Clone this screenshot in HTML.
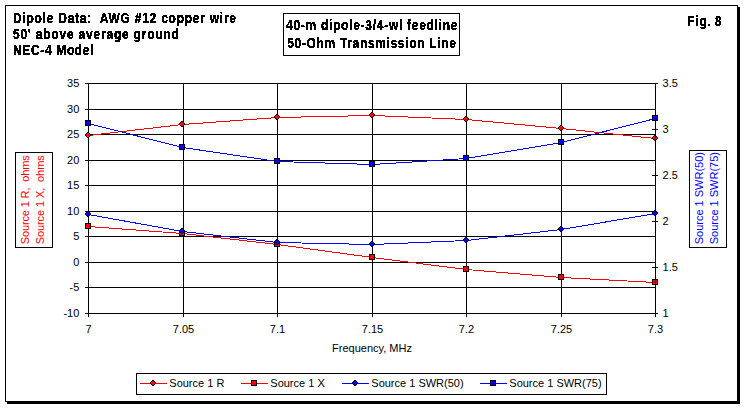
<!DOCTYPE html><html><head><meta charset="utf-8"><style>html,body{margin:0;padding:0;background:#fff;width:745px;height:408px;overflow:hidden}svg{display:block}text{font-family:"Liberation Sans",sans-serif}</style></head><body>
<svg width="745" height="408" viewBox="0 0 745 408">
<defs><filter id="tb" x="0" y="0" width="745" height="408" filterUnits="userSpaceOnUse" color-interpolation-filters="sRGB"><feComponentTransfer><feFuncA type="discrete" tableValues="0 1 1 1"/></feComponentTransfer></filter></defs>
<rect width="745" height="408" fill="#fff"/>
<rect x="5.5" y="5.5" width="732" height="396" fill="#fff" stroke="#000" stroke-width="1" shape-rendering="crispEdges"/>
<rect x="738" y="7" width="2" height="397" fill="#000"/>
<rect x="7" y="402" width="733" height="2" fill="#000"/>
<path d="M85 83.5H655 M85 109.5H655 M85 134.5H655 M85 160.5H655 M85 185.5H655 M85 211.5H655 M85 236.5H655 M85 262.5H655 M85 287.5H655 M85 313.5H655 M183.5 83V317 M277.5 83V317 M372.5 83V317 M466.5 83V317 M561.5 83V317 M655.5 313V317 M88.5 83V317 M85 313.5H655" stroke="#000" stroke-width="1" fill="none" shape-rendering="crispEdges"/>
<polyline points="88.5,135.5 182.5,124.5 277.5,117.5 372.5,115.5 466.5,119.5 561.5,128.5 655.5,138.5" fill="none" stroke="#ff0000" stroke-width="1" shape-rendering="crispEdges"/>
<polyline points="88.5,226.5 182.5,233.5 277.5,244.5 372.5,257.5 466.5,269.5 561.5,277.5 655.5,282.5" fill="none" stroke="#ff0000" stroke-width="1" shape-rendering="crispEdges"/>
<path d="M87 132h2v1h1v1h1v2h-1v1h-1v1h-2v-1h-1v-1h-1v-2h1v-1h1z" fill="#000" shape-rendering="crispEdges"/><path d="M87 133h2v1h1v2h-1v1h-2v-1h-1v-2h1z" fill="#ff0000" shape-rendering="crispEdges"/>
<path d="M181 121h2v1h1v1h1v2h-1v1h-1v1h-2v-1h-1v-1h-1v-2h1v-1h1z" fill="#000" shape-rendering="crispEdges"/><path d="M181 122h2v1h1v2h-1v1h-2v-1h-1v-2h1z" fill="#ff0000" shape-rendering="crispEdges"/>
<path d="M276 114h2v1h1v1h1v2h-1v1h-1v1h-2v-1h-1v-1h-1v-2h1v-1h1z" fill="#000" shape-rendering="crispEdges"/><path d="M276 115h2v1h1v2h-1v1h-2v-1h-1v-2h1z" fill="#ff0000" shape-rendering="crispEdges"/>
<path d="M371 112h2v1h1v1h1v2h-1v1h-1v1h-2v-1h-1v-1h-1v-2h1v-1h1z" fill="#000" shape-rendering="crispEdges"/><path d="M371 113h2v1h1v2h-1v1h-2v-1h-1v-2h1z" fill="#ff0000" shape-rendering="crispEdges"/>
<path d="M465 116h2v1h1v1h1v2h-1v1h-1v1h-2v-1h-1v-1h-1v-2h1v-1h1z" fill="#000" shape-rendering="crispEdges"/><path d="M465 117h2v1h1v2h-1v1h-2v-1h-1v-2h1z" fill="#ff0000" shape-rendering="crispEdges"/>
<path d="M560 125h2v1h1v1h1v2h-1v1h-1v1h-2v-1h-1v-1h-1v-2h1v-1h1z" fill="#000" shape-rendering="crispEdges"/><path d="M560 126h2v1h1v2h-1v1h-2v-1h-1v-2h1z" fill="#ff0000" shape-rendering="crispEdges"/>
<path d="M654 135h2v1h1v1h1v2h-1v1h-1v1h-2v-1h-1v-1h-1v-2h1v-1h1z" fill="#000" shape-rendering="crispEdges"/><path d="M654 136h2v1h1v2h-1v1h-2v-1h-1v-2h1z" fill="#ff0000" shape-rendering="crispEdges"/>
<rect x="85" y="223" width="6" height="6" fill="#000" shape-rendering="crispEdges"/><rect x="86" y="224" width="4" height="4" fill="#ff0000" shape-rendering="crispEdges"/>
<rect x="179" y="230" width="6" height="6" fill="#000" shape-rendering="crispEdges"/><rect x="180" y="231" width="4" height="4" fill="#ff0000" shape-rendering="crispEdges"/>
<rect x="274" y="241" width="6" height="6" fill="#000" shape-rendering="crispEdges"/><rect x="275" y="242" width="4" height="4" fill="#ff0000" shape-rendering="crispEdges"/>
<rect x="369" y="254" width="6" height="6" fill="#000" shape-rendering="crispEdges"/><rect x="370" y="255" width="4" height="4" fill="#ff0000" shape-rendering="crispEdges"/>
<rect x="463" y="266" width="6" height="6" fill="#000" shape-rendering="crispEdges"/><rect x="464" y="267" width="4" height="4" fill="#ff0000" shape-rendering="crispEdges"/>
<rect x="558" y="274" width="6" height="6" fill="#000" shape-rendering="crispEdges"/><rect x="559" y="275" width="4" height="4" fill="#ff0000" shape-rendering="crispEdges"/>
<rect x="652" y="279" width="6" height="6" fill="#000" shape-rendering="crispEdges"/><rect x="653" y="280" width="4" height="4" fill="#ff0000" shape-rendering="crispEdges"/>
<path d="M655.5 83V314 M652 83.5H658 M652 129.5H658 M652 175.5H658 M652 221.5H658 M652 267.5H658 M652 313.5H658" stroke="#000" stroke-width="1" fill="none" shape-rendering="crispEdges"/>
<polyline points="88.5,214.5 182.5,231.5 277.5,242.5 372.5,244.5 466.5,240.5 561.5,229.5 655.5,213.5" fill="none" stroke="#0000ff" stroke-width="1" shape-rendering="crispEdges"/>
<polyline points="88.5,123.5 182.5,147.5 277.5,161.5 372.5,164.5 466.5,158.5 561.5,142.5 655.5,118.5" fill="none" stroke="#0000ff" stroke-width="1" shape-rendering="crispEdges"/>
<path d="M87 211h2v1h1v1h1v2h-1v1h-1v1h-2v-1h-1v-1h-1v-2h1v-1h1z" fill="#000" shape-rendering="crispEdges"/><path d="M87 212h2v1h1v2h-1v1h-2v-1h-1v-2h1z" fill="#0000ff" shape-rendering="crispEdges"/>
<path d="M181 228h2v1h1v1h1v2h-1v1h-1v1h-2v-1h-1v-1h-1v-2h1v-1h1z" fill="#000" shape-rendering="crispEdges"/><path d="M181 229h2v1h1v2h-1v1h-2v-1h-1v-2h1z" fill="#0000ff" shape-rendering="crispEdges"/>
<path d="M276 239h2v1h1v1h1v2h-1v1h-1v1h-2v-1h-1v-1h-1v-2h1v-1h1z" fill="#000" shape-rendering="crispEdges"/><path d="M276 240h2v1h1v2h-1v1h-2v-1h-1v-2h1z" fill="#0000ff" shape-rendering="crispEdges"/>
<path d="M371 241h2v1h1v1h1v2h-1v1h-1v1h-2v-1h-1v-1h-1v-2h1v-1h1z" fill="#000" shape-rendering="crispEdges"/><path d="M371 242h2v1h1v2h-1v1h-2v-1h-1v-2h1z" fill="#0000ff" shape-rendering="crispEdges"/>
<path d="M465 237h2v1h1v1h1v2h-1v1h-1v1h-2v-1h-1v-1h-1v-2h1v-1h1z" fill="#000" shape-rendering="crispEdges"/><path d="M465 238h2v1h1v2h-1v1h-2v-1h-1v-2h1z" fill="#0000ff" shape-rendering="crispEdges"/>
<path d="M560 226h2v1h1v1h1v2h-1v1h-1v1h-2v-1h-1v-1h-1v-2h1v-1h1z" fill="#000" shape-rendering="crispEdges"/><path d="M560 227h2v1h1v2h-1v1h-2v-1h-1v-2h1z" fill="#0000ff" shape-rendering="crispEdges"/>
<path d="M654 210h2v1h1v1h1v2h-1v1h-1v1h-2v-1h-1v-1h-1v-2h1v-1h1z" fill="#000" shape-rendering="crispEdges"/><path d="M654 211h2v1h1v2h-1v1h-2v-1h-1v-2h1z" fill="#0000ff" shape-rendering="crispEdges"/>
<rect x="85" y="120" width="6" height="6" fill="#000" shape-rendering="crispEdges"/><rect x="86" y="121" width="4" height="4" fill="#0000ff" shape-rendering="crispEdges"/>
<rect x="179" y="144" width="6" height="6" fill="#000" shape-rendering="crispEdges"/><rect x="180" y="145" width="4" height="4" fill="#0000ff" shape-rendering="crispEdges"/>
<rect x="274" y="158" width="6" height="6" fill="#000" shape-rendering="crispEdges"/><rect x="275" y="159" width="4" height="4" fill="#0000ff" shape-rendering="crispEdges"/>
<rect x="369" y="161" width="6" height="6" fill="#000" shape-rendering="crispEdges"/><rect x="370" y="162" width="4" height="4" fill="#0000ff" shape-rendering="crispEdges"/>
<rect x="463" y="155" width="6" height="6" fill="#000" shape-rendering="crispEdges"/><rect x="464" y="156" width="4" height="4" fill="#0000ff" shape-rendering="crispEdges"/>
<rect x="558" y="139" width="6" height="6" fill="#000" shape-rendering="crispEdges"/><rect x="559" y="140" width="4" height="4" fill="#0000ff" shape-rendering="crispEdges"/>
<rect x="652" y="115" width="6" height="6" fill="#000" shape-rendering="crispEdges"/><rect x="653" y="116" width="4" height="4" fill="#0000ff" shape-rendering="crispEdges"/>
<rect x="283.5" y="13.5" width="176" height="42" fill="none" stroke="#000" shape-rendering="crispEdges"/>
<rect x="15.5" y="152.5" width="37" height="95" fill="none" stroke="#000" shape-rendering="crispEdges"/>
<rect x="689.5" y="150.5" width="37" height="97" fill="none" stroke="#000" shape-rendering="crispEdges"/>
<rect x="136.5" y="373.5" width="470" height="21" fill="none" stroke="#000" shape-rendering="crispEdges"/>
<path d="M140 383.5H167" stroke="#ff0000" stroke-width="1" shape-rendering="crispEdges"/>
<path d="M152 380h2v1h1v1h1v2h-1v1h-1v1h-2v-1h-1v-1h-1v-2h1v-1h1z" fill="#000" shape-rendering="crispEdges"/><path d="M152 381h2v1h1v2h-1v1h-2v-1h-1v-2h1z" fill="#ff0000" shape-rendering="crispEdges"/>
<path d="M241 383.5H268" stroke="#ff0000" stroke-width="1" shape-rendering="crispEdges"/>
<rect x="251" y="380" width="6" height="6" fill="#000" shape-rendering="crispEdges"/><rect x="252" y="381" width="4" height="4" fill="#ff0000" shape-rendering="crispEdges"/>
<path d="M342 383.5H369" stroke="#0000ff" stroke-width="1" shape-rendering="crispEdges"/>
<path d="M354 380h2v1h1v1h1v2h-1v1h-1v1h-2v-1h-1v-1h-1v-2h1v-1h1z" fill="#000" shape-rendering="crispEdges"/><path d="M354 381h2v1h1v2h-1v1h-2v-1h-1v-2h1z" fill="#0000ff" shape-rendering="crispEdges"/>
<path d="M480 383.5H507" stroke="#0000ff" stroke-width="1" shape-rendering="crispEdges"/>
<rect x="490" y="380" width="6" height="6" fill="#000" shape-rendering="crispEdges"/><rect x="491" y="381" width="4" height="4" fill="#0000ff" shape-rendering="crispEdges"/>
<g filter="url(#tb)">
<text transform="translate(13,23) scale(0.92,1.1)" x="0" y="0" font-size="13" font-weight="bold" text-anchor="start" xml:space="preserve" textLength="242.39" lengthAdjust="spacing">Dipole Data:  AWG #12 copper wire</text>
<text transform="translate(13,39) scale(0.92,1.1)" x="0" y="0" font-size="13" font-weight="bold" text-anchor="start" xml:space="preserve" textLength="180.43" lengthAdjust="spacing">50' above average ground</text>
<text transform="translate(13,55) scale(0.92,1.1)" x="0" y="0" font-size="13" font-weight="bold" text-anchor="start" xml:space="preserve" textLength="87.50" lengthAdjust="spacing">NEC-4 Model</text>
<text transform="translate(286,30) scale(0.92,1.1)" x="0" y="0" font-size="13" font-weight="bold" text-anchor="start" xml:space="preserve" textLength="186.41" lengthAdjust="spacing">40-m dipole-3/4-wl feedline</text>
<text transform="translate(287.3,48) scale(0.92,1.1)" x="0" y="0" font-size="13" font-weight="bold" text-anchor="start" xml:space="preserve" textLength="183.15" lengthAdjust="spacing">50-Ohm Transmission Line</text>
<text transform="translate(687.3,26) scale(0.92,1.1)" x="0" y="0" font-size="13" font-weight="bold" text-anchor="start" xml:space="preserve" textLength="37.28" lengthAdjust="spacing">Fig. 8</text>
</g>
<text x="169.3" y="387" font-size="11">Source 1 R</text>
<text x="270.3" y="387" font-size="11">Source 1 X</text>
<text x="371.3" y="387" font-size="11">Source 1 SWR(50)</text>
<text x="509.3" y="387" font-size="11">Source 1 SWR(75)</text>
<text x="79.3" y="87" text-anchor="end" font-size="11">35</text>
<text x="79.3" y="113" text-anchor="end" font-size="11">30</text>
<text x="79.3" y="138" text-anchor="end" font-size="11">25</text>
<text x="79.3" y="164" text-anchor="end" font-size="11">20</text>
<text x="79.3" y="189" text-anchor="end" font-size="11">15</text>
<text x="79.3" y="215" text-anchor="end" font-size="11">10</text>
<text x="79.3" y="240" text-anchor="end" font-size="11">5</text>
<text x="79.3" y="266" text-anchor="end" font-size="11">0</text>
<text x="79.3" y="291" text-anchor="end" font-size="11">-5</text>
<text x="79.3" y="317" text-anchor="end" font-size="11">-10</text>
<text x="662.6" y="87" font-size="11">3.5</text>
<text x="662.6" y="133" font-size="11">3</text>
<text x="662.6" y="179" font-size="11">2.5</text>
<text x="662.6" y="225" font-size="11">2</text>
<text x="662.6" y="271" font-size="11">1.5</text>
<text x="662.6" y="317" font-size="11">1</text>
<text x="88.5" y="332.8" text-anchor="middle" font-size="11">7</text>
<text x="183.5" y="332.8" text-anchor="middle" font-size="11">7.05</text>
<text x="277.5" y="332.8" text-anchor="middle" font-size="11">7.1</text>
<text x="372.5" y="332.8" text-anchor="middle" font-size="11">7.15</text>
<text x="466.5" y="332.8" text-anchor="middle" font-size="11">7.2</text>
<text x="561.5" y="332.8" text-anchor="middle" font-size="11">7.25</text>
<text x="655.5" y="332.8" text-anchor="middle" font-size="11">7.3</text>
<text x="372" y="352" text-anchor="middle" font-size="11">Frequency, MHz</text>
<text font-size="11" fill="#ff0000" transform="rotate(-90)" xml:space="preserve" x="-244.3" y="28.8" textLength="89" lengthAdjust="spacing">Source 1 R,  ohms</text>
<text font-size="11" fill="#ff0000" transform="rotate(-90)" xml:space="preserve" x="-244.3" y="43.8" textLength="89" lengthAdjust="spacing">Source 1 X,  ohms</text>
<text font-size="11" fill="#0000ff" transform="rotate(-90)"><tspan x="-244.3" y="703.1">Source 1 SWR(50)</tspan><tspan x="-244.3" y="718.2">Source 1 SWR(75)</tspan></text>
</svg></body></html>
